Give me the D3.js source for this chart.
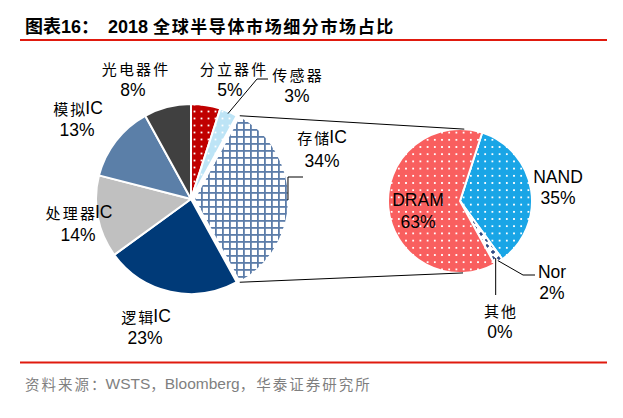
<!DOCTYPE html>
<html><head><meta charset="utf-8">
<script src="https://cdn.jsdelivr.net/npm/d3@7/dist/d3.min.js"></script>
<style>
html,body{margin:0;padding:0;background:#fff;}
svg{display:block;}
</style></head>
<body>
<script>
// ---------- data ----------
const mainCats = ["分立器件","传感器","存储IC","逻辑IC","处理器IC","模拟IC","光电器件"];
const mainVals = [5,3,34,23,14,13,8];
const mainLabels = ["5%","3%","34%","23%","14%","13%","8%"];
const subCats = ["NAND","Nor","其他","DRAM"];
const subVals = [35,2,0,63];
const subLabels = ["35%","2%","0%","63%"];
const titleLead = "图表16：";
const titleText = "2018 全球半导体市场细分市场占比";
const sourceText = "资料来源：WSTS，Bloomberg，华泰证券研究所";

// ---------- layout / style ----------
const W = 623, H = 418;
const L = {cx:191, cy:199, r:95, explode:3, explodeIdx:2};
const R = {cx:460, cy:201, r:72, start:0.05*2*Math.PI};
const fills = {
  "分立器件":"url(#pRed)", "传感器":"url(#pLBlue)", "存储IC":"url(#pGrid)",
  "逻辑IC":"#003A78", "处理器IC":"#C0C0C0", "模拟IC":"#5B7FA8", "光电器件":"#404040",
  "NAND":"url(#pNand)", "Nor":"url(#pNor)", "其他":"#ffffff", "DRAM":"url(#pDram)"
};
// label anchor centres [name line, value line]
const labelPos = {
  "光电器件":[[135,68],[133,90]],
  "分立器件":[[233,68],[230,90]],
  "传感器":[[297,74],[297,96]],
  "模拟IC":[[78,108],[77,130]],
  "存储IC":[[322,137],[322,161]],
  "处理器IC":[[79,212],[78,235]],
  "逻辑IC":[[146,316],[145,338]],
  "NAND":[[558,177],[558,198]],
  "Nor":[[552,272],[552,293]],
  "其他":[[500,310],[500,332]],
  "DRAM":[[418,200],[418,222]]
};

const svg = d3.select("body").append("svg").attr("width",W).attr("height",H);
const defs = svg.append("defs");

function dotPattern(id, bg, s, d){
  const p = defs.append("pattern").attr("id",id).attr("patternUnits","userSpaceOnUse")
    .attr("width",s).attr("height",s);
  p.append("rect").attr("width",s).attr("height",s).attr("fill",bg);
  p.append("rect").attr("x",s/2-d/2).attr("y",s/2-d/2).attr("width",d).attr("height",d).attr("fill","#fff");
}
dotPattern("pRed","#C00000",7,1.8);
dotPattern("pLBlue","#BDE4F6",7,1.8);
dotPattern("pDram","#F95F5F",7.2,1.8);
dotPattern("pNand","#19A5E6",7.2,1.8);
(function(){
  const s=7;
  const p = defs.append("pattern").attr("id","pGrid").attr("patternUnits","userSpaceOnUse")
    .attr("width",s).attr("height",s);
  p.append("rect").attr("width",s).attr("height",s).attr("fill","#fff");
  p.append("rect").attr("x",0).attr("y",0).attr("width",s).attr("height",1.8).attr("fill","#5C7DA9");
  p.append("rect").attr("x",0).attr("y",0).attr("width",1.8).attr("height",s).attr("fill","#5C7DA9");
  const q = defs.append("pattern").attr("id","pNor").attr("patternUnits","userSpaceOnUse")
    .attr("width",6).attr("height",6);
  q.append("rect").attr("width",6).attr("height",6).attr("fill","#fff");
  q.append("path").attr("d","M3,1V5M1,3H5").attr("stroke","#1F3A78").attr("stroke-width",1.3);
})();

// ---------- text helper ----------
const CJK = /[\u3000-\u9fff\uff00-\uffef]/;
function richText(g, x, y, str, o){
  o = Object.assign({latinSize:17.5, cjkSize:15, cjkSpacing:2.2, anchor:"middle", fill:"#000", weight:"normal", baseline:"central"}, o||{});
  const t = g.append("text").attr("x",x).attr("y",y).attr("text-anchor",o.anchor)
    .attr("dominant-baseline",o.baseline).attr("fill",o.fill).attr("font-weight",o.weight);
  const runs = [];
  for(const ch of str){
    const c = CJK.test(ch);
    if(runs.length && runs[runs.length-1].c===c) runs[runs.length-1].s+=ch;
    else runs.push({c, s:ch});
  }
  runs.forEach(r=>{
    if(r.c){
      Array.from(r.s).forEach((ch,k)=>{
        const ts = t.append("tspan").text(ch)
          .attr("font-family","'Noto Sans CJK SC', sans-serif").attr("font-size",o.cjkSize);
        if(k>0) ts.attr("dx",o.cjkSpacing);
      });
    } else {
      t.append("tspan").text(r.s).attr("font-family","'Liberation Sans', Arial, sans-serif").attr("font-size",o.latinSize);
    }
  });
  return t;
}

// ---------- header / footer ----------
richText(svg, 25, 33, titleLead, {anchor:"start", baseline:"auto", weight:"bold", latinSize:18, cjkSize:18, cjkSpacing:0});
richText(svg, 108, 33, titleText, {anchor:"start", baseline:"auto", weight:"bold", latinSize:18, cjkSize:17, cjkSpacing:1.6});
svg.append("line").attr("x1",20).attr("x2",607).attr("y1",40).attr("y2",40).attr("stroke","#E01A0E").attr("stroke-width",2);
svg.append("line").attr("x1",20).attr("x2",607).attr("y1",362.5).attr("y2",362.5).attr("stroke","#E01A0E").attr("stroke-width",2);
richText(svg, 25, 383, sourceText, {anchor:"start", fill:"#7F7F7F", latinSize:15.5, cjkSize:14.5, cjkSpacing:2});

// ---------- main pie ----------
const pie = d3.pie().sort(null).value(d=>d.v);
const mainData = pie.startAngle(0).endAngle(2*Math.PI)(mainCats.map((c,i)=>({c, v:mainVals[i]})));
const arcL = d3.arc().innerRadius(0).outerRadius(L.r);
const gL = svg.append("g").attr("transform",`translate(${L.cx},${L.cy})`);
function offset(d, k){ const m=(d.startAngle+d.endAngle)/2; return [k*Math.sin(m), -k*Math.cos(m)]; }
gL.selectAll("path").data(mainData).join("path")
  .attr("d",arcL)
  .attr("transform",(d,i)=>{ const o = i===L.explodeIdx? offset(d,L.explode):[0,0]; return `translate(${o[0]},${o[1]})`; })
  .attr("fill",d=>fills[d.data.c])
  .attr("stroke","#fff").attr("stroke-width",2).attr("stroke-linejoin","round");

// ---------- sub pie ----------
const subData = pie.startAngle(R.start).endAngle(R.start+2*Math.PI)(subCats.map((c,i)=>({c, v:subVals[i]})));
const arcR = d3.arc().innerRadius(0).outerRadius(R.r);
const gR = svg.append("g").attr("transform",`translate(${R.cx},${R.cy})`);
gR.selectAll("path").data(subData).join("path")
  .attr("d",arcR)
  .attr("fill",d=>fills[d.data.c])
  .attr("stroke","#fff").attr("stroke-width",2).attr("stroke-linejoin","round");

// ---------- connector lines (tangent to sub pie) ----------
const ex = mainData[L.explodeIdx];
const eo = offset(ex, L.explode);
function pt(cx, cy, r, a){ return [cx + r*Math.sin(a), cy - r*Math.cos(a)]; }
const pTop = pt(L.cx+eo[0], L.cy+eo[1], L.r, ex.startAngle);
const pBot = pt(L.cx+eo[0], L.cy+eo[1], L.r, ex.endAngle);
function tangent(P, upper){
  const dx=P[0]-R.cx, dy=P[1]-R.cy, d=Math.hypot(dx,dy);
  const th=Math.atan2(dy,dx), al=Math.acos(R.r/d);
  const a1=[R.cx+R.r*Math.cos(th+al), R.cy+R.r*Math.sin(th+al)];
  const a2=[R.cx+R.r*Math.cos(th-al), R.cy+R.r*Math.sin(th-al)];
  return upper ? (a1[1]<a2[1]?a1:a2) : (a1[1]>a2[1]?a1:a2);
}
const tTop = tangent(pTop,true), tBot = tangent(pBot,false);
svg.append("line").attr("x1",pTop[0]).attr("y1",pTop[1]).attr("x2",tTop[0]).attr("y2",tTop[1]).attr("stroke","#000").attr("stroke-width",1);
svg.append("line").attr("x1",pBot[0]).attr("y1",pBot[1]).attr("x2",tBot[0]).attr("y2",tBot[1]).attr("stroke","#000").attr("stroke-width",1);

// ---------- leader lines ----------
const line = d3.line();
function lead(points){ svg.append("path").attr("d",line(points)).attr("fill","none").attr("stroke","#000").attr("stroke-width",1); }
{ const d = mainData[1]; const p = pt(L.cx,L.cy,L.r*0.98,(d.startAngle+d.endAngle)/2); lead([p,[257,79],[268,79]]); }
{ const p = pt(L.cx+eo[0],L.cy+eo[1],L.r,Math.PI/2 - 0.02); lead([[p[0]-1,200],[p[0]-1,177],[303,177]]); }
{ const d = subData[1]; const p = pt(R.cx,R.cy,R.r*0.98,(d.startAngle+d.endAngle)/2); lead([p,[523,275],[535,275]]); }
{ const d = subData[2]; const p = pt(R.cx,R.cy,R.r,d.startAngle); lead([[p[0]+1,p[1]-6],[p[0]+1,295]]); }

// ---------- labels ----------
const gLab = svg.append("g");
mainCats.concat(subCats).forEach((c)=>{
  const i = mainCats.indexOf(c);
  const val = i>=0 ? mainLabels[i] : subLabels[subCats.indexOf(c)];
  const pos = labelPos[c];
  richText(gLab, pos[0][0], pos[0][1], c);
  richText(gLab, pos[1][0], pos[1][1], val);
});
</script>
</body></html>
